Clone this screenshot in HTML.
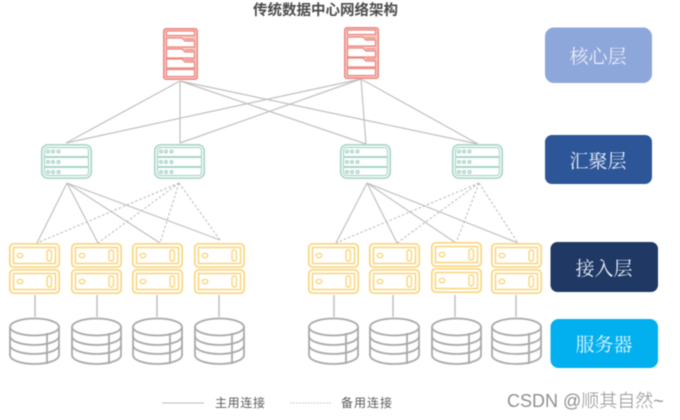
<!DOCTYPE html>
<html><head><meta charset="utf-8">
<style>
html,body{margin:0;padding:0;background:#fff;width:680px;height:420px;overflow:hidden}
svg{display:block;position:absolute;left:0;top:0}
#g{filter:blur(.45px)}
</style></head><body>
<svg width="680" height="420" viewBox="0 0 680 420" xmlns="http://www.w3.org/2000/svg">
<defs>
<symbol id="core" viewBox="0 0 35 52" width="35" height="52" overflow="visible">
  <rect x=".8" y=".8" width="33.4" height="50.4" rx="2" fill="#f9cdc8" stroke="#ee8a82" stroke-width="1.600"/>
  <rect x="3.500" y="3" width="28" height="4.500" fill="#fff" stroke="#ec8279" stroke-width="1.200"/>
  <path d="M3.500 10H19L22 13H31.500V19H3.500Z" fill="#fff" stroke="#ec8279" stroke-width="1.200"/>
  <path d="M3.500 21H19L22 24H31.500V30H3.500Z" fill="#fff" stroke="#ec8279" stroke-width="1.200"/>
  <path d="M3.500 31H19L22 34H31.500V40H3.500Z" fill="#fff" stroke="#ec8279" stroke-width="1.200"/>
  <path d="M22 11H31.500M22 22H31.500M22 32H31.500" stroke="#ec8279" fill="none"/>
  <rect x="3.500" y="41.500" width="28" height="7" fill="#fff" stroke="#ec8279" stroke-width="1.200"/>
</symbol>
<symbol id="agg" viewBox="0 0 51 35" width="51" height="35" overflow="visible">
  <rect x=".8" y=".8" width="49.400" height="33.400" rx="6" fill="#fff" stroke="#a9d6c8" stroke-width="1.700"/>
  <rect x="3.500" y="3.500" width="44" height="28" rx="3" fill="#fff" stroke="#a9d6c8" stroke-width="1.200"/>
  <path d="M3.500 12.500H47.500M3.500 13.500H47.500M3.500 22.500H47.500M3.500 23.500H47.500" stroke="#a9d6c8" fill="none"/>
  <g fill="#d8ece6" stroke="#a8d2c6" stroke-width="1">
    <circle cx="7" cy="7.500" r="1.500"/><circle cx="12" cy="7.500" r="1.500"/><circle cx="17.500" cy="7.500" r="1.500"/>
    <circle cx="7" cy="18" r="1.500"/><circle cx="12" cy="18" r="1.500"/><circle cx="17.500" cy="18" r="1.500"/>
    <circle cx="7" cy="28" r="1.500"/><circle cx="12" cy="28" r="1.500"/><circle cx="17.500" cy="28" r="1.500"/>
  </g>
</symbol>
<symbol id="unit" viewBox="0 0 51 25" width="51" height="25" overflow="visible">
  <rect x=".8" y=".8" width="49.400" height="23.400" rx="4" fill="#fff" stroke="#fad67c" stroke-width="1.700"/>
  <rect x="4.500" y="4.500" width="42" height="16" fill="#fff" stroke="#fad67c" stroke-width="1.500"/>
  <ellipse cx="11" cy="12.500" rx="2.800" ry="2.200" fill="none" stroke="#fad67c" stroke-width="1.400"/>
  <rect x="38" y="7" width="4.500" height="11" rx="2.200" fill="none" stroke="#fad67c" stroke-width="1.400"/>
</symbol>
<symbol id="disk" viewBox="0 0 51 47" width="51" height="47" overflow="visible">
  <g fill="none" stroke="#aaaaaa" stroke-width="1.800">
    <ellipse cx="25.500" cy="9" rx="24.500" ry="8.500" fill="#fff"/>
    <path d="M1 9V37C1 42 12 46 25.500 46S50 42 50 37V9"/>
    <path d="M1 18C1 23 12 27 25.500 27S50 23 50 18"/>
    <path d="M1 27C1 32 12 36 25.500 36S50 32 50 27"/>
    <path d="M38 15V46"/>
  </g>
</symbol>
</defs>
<g id="g">
<g stroke="#c0c0c0" stroke-width="1.200" fill="none">
  <path d="M180 81L66 143M180 81V143M180 81L366 144M180 81L478 144"/>
  <path d="M361 79L66 143M361 79L180 143M361 79L366 144M361 79L478 144"/>
  <path d="M67 183L37 243M67 183L98 243M67 183L160 243M67 183L220 240"/>
  <path d="M367 183L336 243M367 183L397 243M367 183L456 243M367 183L518 243"/>
  <path stroke-width="1.500" d="M35 295V317M97 295V317M157 295V317M219 295V317M334 295V317M393 295V317M455 295V317M516 295V317"/>
</g>
<g stroke="#b8b8b8" stroke-width="1" stroke-dasharray="2.500 2" fill="none">
  <path d="M179 183L37 243M179 183L98 243M179 183L160 243M179 183L220 240"/>
  <path d="M479 183L336 243M479 183L397 243M479 183L456 243M479 183L518 243"/>
</g>

<use href="#core" x="163" y="28"/>
<use href="#core" x="344" y="27"/>

<use href="#agg" x="41" y="144"/>
<use href="#agg" x="154" y="144"/>
<use href="#agg" x="340" y="144"/>
<use href="#agg" x="452" y="144"/>

<use href="#unit" x="9" y="243"/><use href="#unit" x="9" y="269"/>
<use href="#unit" x="71" y="243"/><use href="#unit" x="71" y="269"/>
<use href="#unit" x="132" y="243"/><use href="#unit" x="132" y="269"/>
<use href="#unit" x="194" y="243"/><use href="#unit" x="194" y="269"/>
<use href="#unit" x="308" y="243"/><use href="#unit" x="308" y="269"/>
<use href="#unit" x="369" y="243"/><use href="#unit" x="369" y="269"/>
<use href="#unit" x="431" y="242"/><use href="#unit" x="431" y="268"/>
<use href="#unit" x="491" y="243"/><use href="#unit" x="491" y="269"/>

<use href="#disk" x="9" y="318"/>
<use href="#disk" x="71" y="318"/>
<use href="#disk" x="132" y="318"/>
<use href="#disk" x="194" y="318"/>
<use href="#disk" x="308" y="318"/>
<use href="#disk" x="369" y="318"/>
<use href="#disk" x="431" y="318"/>
<use href="#disk" x="491" y="318"/>

<rect x="545" y="27.500" width="107" height="55.500" rx="9" fill="#8ea7da"/>
<rect x="545" y="135" width="107" height="49" rx="7" fill="#2d5698"/>
<rect x="550.500" y="242" width="107.500" height="50" rx="7" fill="#1f3864"/>
<rect x="550.500" y="319" width="107.500" height="49" rx="8" fill="#02b0f0"/>

<g font-family="'Liberation Serif','Noto Serif CJK SC',serif" font-size="19" text-anchor="middle" fill="#e9eef8">
  <text x="598" y="63">核心层</text>
  <text x="598" y="167.500">汇聚层</text>
  <text x="604" y="275">接入层</text>
  <text x="604" y="351" fill="#e3f5fd">服务器</text>
</g>

<text x="325.500" y="15" font-family="'Liberation Sans','Noto Sans CJK SC',sans-serif" font-size="14.500" font-weight="700" text-anchor="middle" fill="#4c4c4c">传统数据中心网络架构</text>

<path d="M162 403H204" stroke="#bdbdbd" stroke-width="1"/>
<path d="M290 403H332" stroke="#bdbdbd" stroke-width="1" stroke-dasharray="1.500 1.500"/>
<g font-family="'Liberation Sans','Noto Sans CJK SC',sans-serif" font-size="12" fill="#5c5c5c">
  <text x="215" y="407" textLength="50">主用连接</text>
  <text x="341" y="407" textLength="51">备用连接</text>
</g>
<text x="507" y="407" font-family="'Liberation Sans','Noto Sans CJK SC',sans-serif" font-size="18" font-weight="300" fill="#8f8f8f">CSDN @顺其自然~</text>
</g>
</svg>
</body></html>
